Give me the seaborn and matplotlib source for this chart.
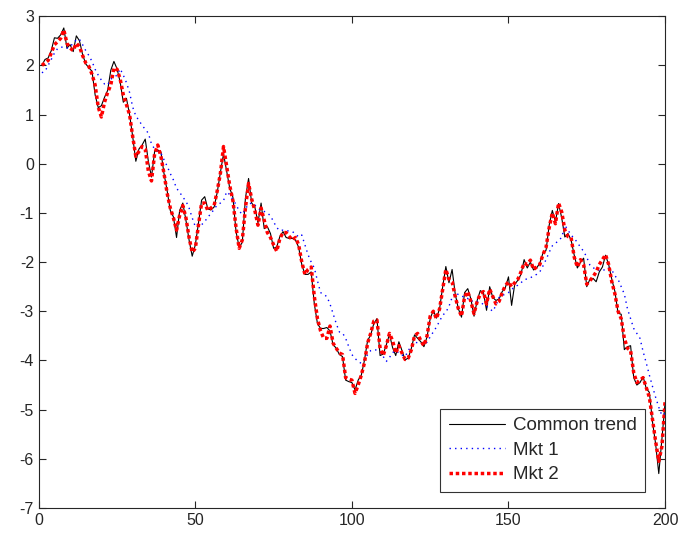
import matplotlib
matplotlib.use("Agg")
import matplotlib.pyplot as plt
import pandas as pd
import seaborn as sns
import numpy as np

sns.set_style("ticks")
plt.rcParams['font.family'] = ['Liberation Sans', 'DejaVu Sans']
plt.rcParams['axes.unicode_minus'] = False

# time index 1..200
t = list(range(1, 201))

common = [
    2.00, 2.12, 2.15, 2.30, 2.56, 2.55, 2.62, 2.76, 2.35, 2.42,
    2.28, 2.60, 2.50, 2.22, 2.03, 1.95, 1.88, 1.40, 1.14, 1.18,
    1.35, 1.49, 1.90, 2.08, 1.93, 1.66, 1.25, 1.33, 1.00, 0.55,
    0.05, 0.30, 0.38, 0.50, 0.05, -0.27, 0.25, 0.28, 0.24, -0.20,
    -0.55, -0.95, -1.08, -1.50, -0.95, -0.80, -1.15, -1.55, -1.88, -1.65,
    -1.21, -0.74, -0.67, -0.92, -0.94, -0.88, -0.58, -0.18, 0.20, -0.15,
    -0.50, -0.68, -1.38, -1.70, -1.60, -0.70, -0.30, -0.80, -0.88, -1.20,
    -0.80, -1.32, -1.28, -1.42, -1.72, -1.69, -1.48, -1.38, -1.50, -1.52,
    -1.52, -1.55, -1.70, -2.05, -2.25, -2.25, -2.20, -2.85, -3.25, -3.35,
    -3.35, -3.33, -3.40, -3.68, -3.75, -3.88, -3.92, -4.40, -4.43, -4.45,
    -4.60, -4.40, -4.30, -4.00, -3.60, -3.48, -3.25, -3.15, -3.90, -3.87,
    -3.68, -3.47, -3.74, -3.90, -3.62, -3.80, -3.99, -3.95, -3.75, -3.48,
    -3.55, -3.62, -3.72, -3.52, -3.15, -2.98, -3.14, -2.95, -2.50, -2.09,
    -2.42, -2.15, -2.65, -2.95, -3.12, -2.62, -2.54, -2.75, -3.10, -2.78,
    -2.58, -2.62, -2.98, -2.50, -2.72, -2.78, -2.75, -2.60, -2.52, -2.30,
    -2.88, -2.45, -2.37, -2.25, -1.95, -2.12, -2.00, -2.16, -2.12, -2.02,
    -1.82, -1.76, -1.25, -0.95, -1.18, -0.81, -1.10, -1.49, -1.42, -1.55,
    -1.86, -2.12, -2.00, -1.92, -2.50, -2.35, -2.33, -2.40, -2.20, -2.10,
    -1.86, -2.05, -2.35, -2.60, -3.04, -3.06, -3.78, -3.72, -3.70, -4.35,
    -4.50, -4.45, -4.33, -4.57, -4.65, -5.25, -5.70, -6.30, -5.60, -4.87,
]

mkt1 = [
    1.85, 1.88, 2.00, 2.12, 2.25, 2.34, 2.37, 2.37, 2.35, 2.38,
    2.45, 2.52, 2.53, 2.42, 2.30, 2.20, 2.08, 1.92, 1.80, 1.70,
    1.62, 1.60, 1.72, 1.76, 1.80, 1.93, 1.80, 1.65, 1.45, 1.15,
    0.97, 0.88, 0.78, 0.70, 0.62, 0.40, 0.30, 0.25, 0.22, 0.08,
    -0.05, -0.20, -0.33, -0.50, -0.58, -0.68, -0.76, -0.90, -1.10, -1.28,
    -1.22, -1.24, -1.18, -1.08, -1.02, -0.92, -0.84, -0.80, -0.75, -0.57,
    -0.63, -0.73, -0.83, -0.96, -1.03, -0.92, -0.82, -0.80, -0.84, -0.90,
    -0.95, -0.97, -1.00, -1.06, -1.18, -1.30, -1.36, -1.35, -1.36, -1.37,
    -1.38, -1.43, -1.49, -1.45, -1.65, -1.85, -2.00, -2.12, -2.38, -2.62,
    -2.66, -2.70, -2.85, -3.05, -3.25, -3.42, -3.44, -3.55, -3.72, -3.88,
    -3.96, -4.02, -4.06, -3.98, -3.88, -3.80, -3.78, -3.79, -3.83, -3.92,
    -4.02, -3.94, -3.84, -3.80, -3.85, -3.89, -3.92, -3.80, -3.70, -3.63,
    -3.64, -3.66, -3.68, -3.63, -3.52, -3.42, -3.32, -3.20, -3.08, -3.02,
    -2.90, -2.72, -2.62, -2.66, -2.70, -2.70, -2.74, -2.80, -2.78, -2.80,
    -2.82, -2.86, -2.90, -2.95, -3.00, -2.88, -2.72, -2.68, -2.65, -2.62,
    -2.56, -2.50, -2.47, -2.42, -2.36, -2.34, -2.32, -2.28, -2.25, -2.20,
    -2.08, -1.95, -1.80, -1.67, -1.62, -1.56, -1.50, -1.25, -1.35, -1.45,
    -1.52, -1.60, -1.70, -1.78, -1.90, -2.06, -2.12, -2.13, -2.17, -2.18,
    -2.14, -2.12, -2.16, -2.28, -2.35, -2.50, -2.65, -2.95, -3.15, -3.35,
    -3.45, -3.55, -3.82, -4.05, -4.30, -4.53, -4.75, -4.95, -5.12, -5.08,
]

mkt2 = [
    2.00, 2.05, 2.10, 2.25, 2.42, 2.48, 2.55, 2.72, 2.45, 2.35,
    2.30, 2.45, 2.38, 2.20, 2.05, 1.98, 1.82, 1.60, 1.15, 0.95,
    1.25, 1.45, 1.60, 1.95, 1.92, 1.72, 1.40, 1.20, 1.00, 0.55,
    0.15, 0.25, 0.35, 0.30, -0.15, -0.35, 0.20, 0.38, 0.15, -0.20,
    -0.60, -0.90, -1.10, -1.35, -1.05, -0.85, -1.10, -1.50, -1.80, -1.72,
    -1.25, -0.80, -0.80, -0.95, -0.90, -0.85, -0.55, -0.20, 0.35, -0.05,
    -0.45, -0.75, -1.30, -1.72, -1.55, -0.90, -0.40, -0.72, -0.95, -1.25,
    -0.90, -1.15, -1.40, -1.50, -1.65, -1.78, -1.52, -1.40, -1.40, -1.48,
    -1.55, -1.50, -1.65, -2.00, -2.25, -2.15, -2.10, -2.70, -3.15, -3.40,
    -3.55, -3.55, -3.30, -3.65, -3.75, -3.85, -3.88, -4.35, -4.38, -4.40,
    -4.67, -4.50, -4.30, -4.05, -3.65, -3.45, -3.20, -3.18, -3.75, -3.90,
    -3.70, -3.45, -3.60, -3.85, -3.70, -3.85, -3.98, -3.95, -3.78, -3.50,
    -3.45, -3.60, -3.70, -3.50, -3.10, -3.00, -3.15, -2.95, -2.55, -2.15,
    -2.35, -2.40, -2.70, -2.95, -3.10, -2.70, -2.60, -2.80, -3.05, -2.80,
    -2.65, -2.60, -2.85, -2.55, -2.70, -2.85, -2.80, -2.62, -2.48, -2.40,
    -2.50, -2.42, -2.35, -2.20, -2.02, -2.05, -1.96, -2.15, -2.10, -2.05,
    -1.85, -1.70, -1.30, -1.00, -1.22, -0.80, -0.98, -1.35, -1.48, -1.50,
    -1.90, -2.10, -1.95, -2.05, -2.45, -2.38, -2.30, -2.20, -2.05, -1.95,
    -1.85, -2.05, -2.40, -2.65, -3.00, -3.15, -3.55, -3.75, -3.80, -4.25,
    -4.45, -4.40, -4.35, -4.55, -4.75, -5.20, -5.65, -6.05, -5.75, -4.85,
]

df = pd.DataFrame({'t': t, 'Common trend': common, 'Mkt 1': mkt1, 'Mkt 2': mkt2})

fig = plt.figure(figsize=(6.8, 5.39), dpi=100)
ax = fig.add_axes([0.057, 0.0575, 0.921, 0.9125])

sns.lineplot(data=df, x='t', y='Common trend', ax=ax, color='black',
             linewidth=0.8, label='Common trend')
sns.lineplot(data=df, x='t', y='Mkt 1', ax=ax, color='#0000ff',
             linewidth=1.0, linestyle=(0, (1, 3)), label='Mkt 1')
sns.lineplot(data=df, x='t', y='Mkt 2', ax=ax, color='#ff0000',
             linewidth=2.5, linestyle=(0, (1, 0.8)), label='Mkt 2')

ax.set_xlim(0, 200)
ax.set_ylim(-7, 3)
ax.set_xticks([0, 50, 100, 150, 200])
ax.set_yticks(range(-7, 4))
ax.set_xlabel('')
ax.set_ylabel('')
ax.tick_params(direction='in', top=True, right=True, labelsize=11.5,
               length=5, width=0.8, colors='#262626', labelcolor='#262626')
for s in ax.spines.values():
    s.set_linewidth(0.8)
    s.set_color('#262626')

leg = ax.legend(loc='lower right', fontsize=13.5, frameon=True, fancybox=False,
                edgecolor='black', handlelength=3.0, handletextpad=0.4,
                borderaxespad=0.0, bbox_to_anchor=(0.968, 0.033),
                labelspacing=0.4, borderpad=0.45)
leg.get_frame().set_linewidth(0.8)

fig.savefig('out.png', dpi=100)
